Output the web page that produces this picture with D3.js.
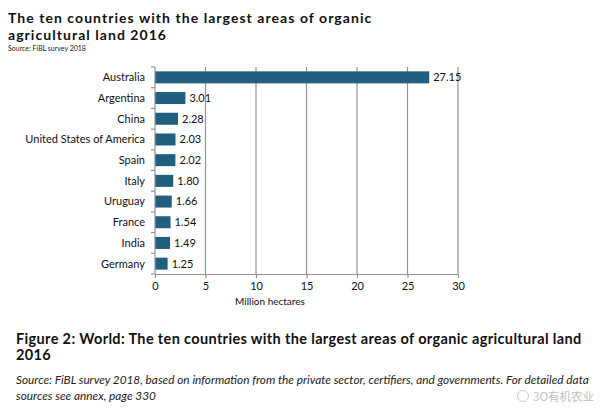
<!DOCTYPE html>
<html>
<head>
<meta charset="utf-8">
<script src="https://cdn.jsdelivr.net/npm/d3@7"></script>
<style>
  body { margin: 0; background: #fff; }
  svg { display: block; font-family: Lato, "Open Sans", sans-serif; }
</style>
</head>
<body>
<div id="chart"></div>
<script>
// Data
const countries = ["Australia", "Argentina", "China", "United States of America", "Spain",
                   "Italy", "Uruguay", "France", "India", "Germany"];
const areas = [27.15, 3.01, 2.28, 2.03, 2.02, 1.80, 1.66, 1.54, 1.49, 1.25];
const xTicks = [0, 5, 10, 15, 20, 25, 30];

const width = 600, height = 420;
const margin = { left: 155, right: 142, top: 67, bottom: 146 };

let svg = d3.select("#chart").append("svg")
    .attr("width", width)
    .attr("height", height);

// Titles
svg.append("text").attr("x", 8).attr("y", 23)
    .attr("font-size", 14).attr("font-weight", "bold").attr("fill", "#111")
    .attr("letter-spacing", 1.05)
    .text("The ten countries with the largest areas of organic");
svg.append("text").attr("x", 8).attr("y", 40)
    .attr("font-size", 14).attr("font-weight", "bold").attr("fill", "#111")
    .attr("letter-spacing", 1.05)
    .text("agricultural land 2016");
svg.append("text").attr("x", 8).attr("y", 51)
    .attr("font-size", 7).attr("fill", "#222")
    .text("Source: FiBL survey 2018");

// Scales
let x = d3.scaleLinear().domain([0, 30]).range([margin.left, width - margin.right]);
let y = d3.scaleBand().domain(countries)
    .range([margin.top, height - margin.bottom])
    .paddingInner(0.42).paddingOuter(0.21);

let plot = svg.append("g");

// Vertical gridlines
plot.selectAll("line.grid")
    .data(xTicks.slice(1))
    .enter().append("line")
    .attr("class", "grid")
    .attr("x1", d => x(d)).attr("x2", d => x(d))
    .attr("y1", margin.top).attr("y2", height - margin.bottom)
    .attr("stroke", "#8c9696").attr("stroke-width", 1.2);

// Bars
plot.selectAll("rect")
    .data(countries)
    .enter().append("rect")
    .attr("x", x(0))
    .attr("y", d => y(d))
    .attr("width", (d, i) => x(areas[i]) - x(0))
    .attr("height", y.bandwidth())
    .attr("fill", "#215f7f");

// Value labels
plot.selectAll("text.val")
    .data(countries)
    .enter().append("text")
    .attr("class", "val")
    .attr("x", (d, i) => x(areas[i]) + 4)
    .attr("y", d => y(d) + y.bandwidth() / 2)
    .attr("dy", "0.35em")
    .attr("font-size", 11).attr("fill", "#111")
    .text((d, i) => areas[i].toFixed(2));

// Y axis with ticks at band boundaries
let yAxis = svg.append("g").attr("transform", `translate(${x(0)},0)`);
yAxis.append("line")
    .attr("x1", 0).attr("x2", 0)
    .attr("y1", margin.top).attr("y2", height - margin.bottom)
    .attr("stroke", "#8c9696").attr("stroke-width", 1.2);
let step = y.step();
yAxis.selectAll("line.tk")
    .data(d3.range(countries.length + 1))
    .enter().append("line")
    .attr("class", "tk")
    .attr("x1", -4).attr("x2", 0)
    .attr("y1", i => margin.top + i * step).attr("y2", i => margin.top + i * step)
    .attr("stroke", "#8c9696").attr("stroke-width", 1.2);
yAxis.selectAll("text")
    .data(countries)
    .enter().append("text")
    .attr("x", -10)
    .attr("y", d => y(d) + y.bandwidth() / 2)
    .attr("dy", "0.35em")
    .attr("text-anchor", "end")
    .attr("font-size", 11).attr("fill", "#111")
    .text(d => d);

// X axis
let xAxis = svg.append("g")
    .attr("transform", `translate(0,${height - margin.bottom})`)
    .call(d3.axisBottom(x).tickValues(xTicks).tickSize(4).tickSizeOuter(0).tickPadding(4));
xAxis.select(".domain").attr("stroke", "#8c9696").attr("stroke-width", 1.2);
xAxis.selectAll(".tick line").attr("stroke", "#8c9696").attr("stroke-width", 1.2);
xAxis.selectAll("text").attr("font-size", 11).attr("fill", "#111")
    .attr("font-family", "Lato, 'Open Sans', sans-serif");

svg.append("text")
    .attr("x", 270).attr("y", 305)
    .attr("text-anchor", "middle")
    .attr("font-size", 10).attr("fill", "#111")
    .text("Million hectares");

// Figure caption
svg.append("text").attr("x", 16).attr("y", 344)
    .attr("font-size", 14.5).attr("font-weight", "bold").attr("fill", "#111")
    .attr("letter-spacing", 0.35)
    .text("Figure 2: World: The ten countries with the largest areas of organic agricultural land");
svg.append("text").attr("x", 16).attr("y", 360)
    .attr("font-size", 14.5).attr("font-weight", "bold").attr("fill", "#111")
    .attr("letter-spacing", 0.35)
    .text("2016");

svg.append("text").attr("x", 16).attr("y", 384)
    .attr("font-size", 11.8).attr("font-style", "italic").attr("fill", "#222")
    .text("Source: FiBL survey 2018, based on information from the private sector, certifiers, and governments. For detailed data");
svg.append("text").attr("x", 16).attr("y", 400)
    .attr("font-size", 11.8).attr("font-style", "italic").attr("fill", "#222")
    .text("sources see annex, page 330");

// Watermark
svg.append("circle").attr("cx", 523).attr("cy", 396).attr("r", 5.5)
    .attr("fill", "none").attr("stroke", "#ccc").attr("stroke-width", 1);
svg.append("text").attr("x", 533).attr("y", 401)
    .attr("font-size", 11.5).attr("fill", "#c0c0c0")
    .attr("font-family", "'Noto Sans CJK SC', sans-serif")
    .text("3O有机农业");
</script>
</body>
</html>
